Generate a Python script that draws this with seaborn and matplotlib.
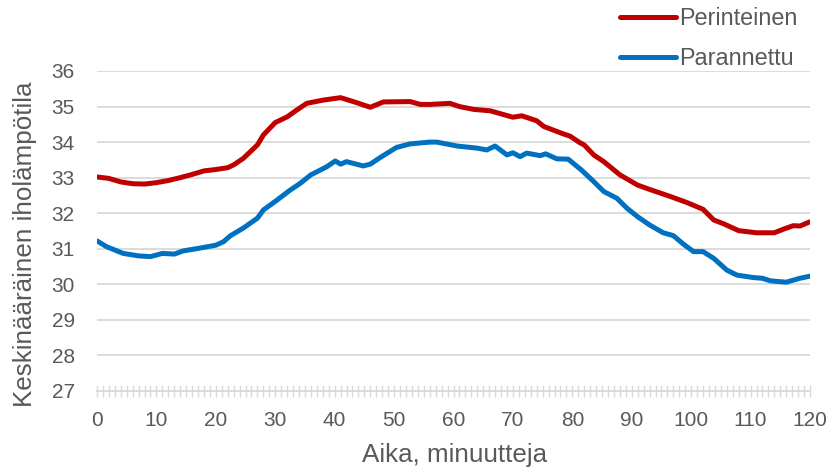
import matplotlib
matplotlib.use("Agg")
import matplotlib.pyplot as plt
from matplotlib.ticker import MultipleLocator
import seaborn as sns
import pandas as pd

series_names = ["Perinteinen", "Parannettu"]

red_t = [0, 2, 4, 6, 8, 10, 12, 14, 16, 18, 20, 22, 23, 24.6, 27, 28, 30, 32, 33.6,
         35.3, 38, 41, 43.7, 46, 48.2, 52.7, 54.4, 56, 59.4, 61, 63.4, 66.2, 70, 71.5,
         74, 75.2, 78.5, 79.6, 81.3, 82, 83.6, 85.3, 88, 91, 93, 96.5, 99.3, 102,
         103.8, 105.5, 108, 111, 114, 115.5, 117.2, 118.3, 120]
red_v = [33.02, 32.98, 32.88, 32.83, 32.82, 32.86, 32.92, 33.0, 33.09, 33.19, 33.23,
         33.28, 33.36, 33.54, 33.92, 34.2, 34.55, 34.71, 34.9, 35.09, 35.18, 35.25,
         35.11, 34.98, 35.13, 35.14, 35.06, 35.06, 35.09, 35.0, 34.92, 34.88, 34.7,
         34.74, 34.6, 34.44, 34.23, 34.17, 33.98, 33.92, 33.64, 33.45, 33.08, 32.79,
         32.67, 32.47, 32.3, 32.11, 31.81, 31.7, 31.51, 31.45, 31.45, 31.55, 31.65,
         31.64, 31.76]

blue_t = [0, 1.6, 4.4, 7, 9, 11, 13, 14.5, 17, 20, 21.3, 22.4, 24.6, 27, 28, 30.3,
          32.5, 34.2, 36, 38.7, 40.1, 41, 42, 44.8, 46, 47.6, 50.4, 52.7, 56, 57.2,
          60.6, 64, 65.6, 67, 69, 70, 71.2, 72.3, 74.6, 75.5, 77.4, 79.3, 81.5, 83.6,
          85.3, 87.5, 89.2, 91, 93, 95.3, 97, 98.7, 100.4, 102, 103.8, 106, 107.7,
          110.5, 112, 113.3, 116, 118.3, 120]
blue_v = [31.22, 31.06, 30.87, 30.8, 30.78, 30.87, 30.85, 30.94, 31.01, 31.1, 31.2,
          31.36, 31.58, 31.86, 32.09, 32.37, 32.65, 32.84, 33.08, 33.31, 33.47, 33.38,
          33.45, 33.33, 33.38, 33.56, 33.85, 33.95, 34.0, 34.0, 33.89, 33.83, 33.78,
          33.89, 33.64, 33.7, 33.59, 33.69, 33.62, 33.67, 33.53, 33.52, 33.22, 32.89,
          32.61, 32.42, 32.14, 31.9, 31.67, 31.45, 31.37, 31.13, 30.92, 30.92, 30.73,
          30.4, 30.26, 30.19, 30.17, 30.1, 30.06, 30.17, 30.23]

x_ticks = list(range(0, 121, 10))
y_ticks = list(range(27, 37))

df = pd.concat([
    pd.DataFrame({"t": red_t, "v": red_v, "s": series_names[0]}),
    pd.DataFrame({"t": blue_t, "v": blue_v, "s": series_names[1]}),
])

sns.set_theme(style="white")
plt.rcParams["font.family"] = ["Liberation Sans", "DejaVu Sans"]
txt = "#595959"
grid_c = "#d9d9d9"

W, H = 833, 468
fig = plt.figure(figsize=(W / 100, H / 100), dpi=100)
ax = fig.add_axes([97 / W, 1 - 391 / H, (810 - 97) / W, (391 - 71) / H])

sns.lineplot(data=df, x="t", y="v", hue="s", hue_order=series_names,
             palette=["#C00000", "#0070C0"], linewidth=3.6, ax=ax,
             estimator=None, sort=False, legend=True)

ax.set_xlim(0, 120)
ax.set_ylim(27, 36)
ax.set_xticks(x_ticks)
ax.set_yticks(y_ticks)
ax.xaxis.set_minor_locator(MultipleLocator(1))
for y in y_ticks[1:]:
    ax.axhline(y, color=grid_c, lw=1.3, zorder=0)
for s in ["top", "right", "left"]:
    ax.spines[s].set_visible(False)
ax.spines["bottom"].set_color(grid_c)
ax.spines["bottom"].set_linewidth(1.3)
ax.tick_params(axis="x", which="both", direction="inout", length=9, width=1,
               color=grid_c, labelcolor=txt, labelsize=15, pad=10, bottom=True)
ax.tick_params(axis="y", length=0, labelcolor=txt, labelsize=15, pad=16)

ax.set_xlabel("")
ax.set_ylabel("")
fig.text(455 / W, 1 - 455 / H, "Aika, minuutteja", color=txt, fontsize=18.7,
         ha="center", va="center")
fig.text(25 / W, 1 - 244.5 / H, "Keskinääräinen iholämpötila", color=txt,
         fontsize=18.7, ha="center", va="center", rotation=90)

handles, labels = ax.get_legend_handles_labels()
ax.get_legend().remove()
fig.legend(handles, labels, loc="upper left", bbox_to_anchor=(620 / W, 1 - 7 / H),
           frameon=False, fontsize=16.8, handlelength=2.4, handletextpad=0.15,
           labelspacing=0.72, labelcolor=txt, borderaxespad=0, borderpad=0)

fig.savefig("out.png", dpi=100)
